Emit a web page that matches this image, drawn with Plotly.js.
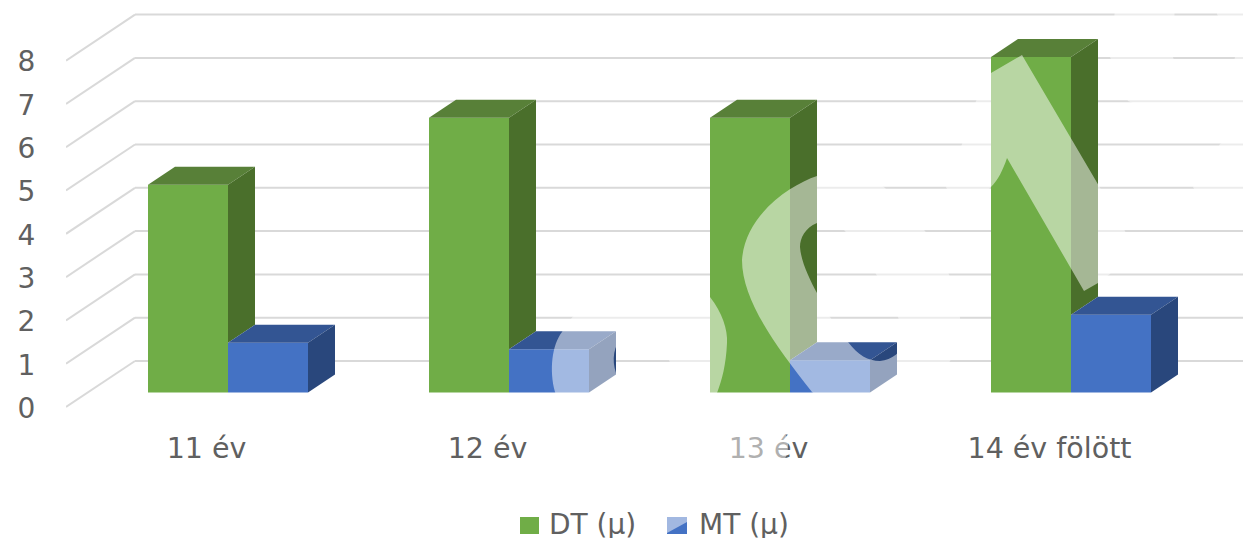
<!DOCTYPE html>
<html>
<head>
<meta charset="utf-8">
<script src="https://cdn.plot.ly/plotly-3.0.1.min.js"></script>
<style>html,body{margin:0;padding:0;background:#fff}#chart{width:1243px;height:539px}</style>
</head>
<body>
<div id="chart"></div>
<script>
// Chart values
const categories = ['11 év', '12 év', '13 év', '14 év fölött'];
const dtValues = [4.8, 6.35, 6.35, 7.75];
const mtValues = [1.15, 1.0, 0.75, 1.8];
const valueTicks = [0, 1, 2, 3, 4, 5, 6, 7, 8];
const dtName = 'DT (μ)';
const mtName = 'MT (μ)';

// Page geometry: the value axis sits slightly below the front wall edge
const W = 1243, H = 539, ML = 66, PLOT_H = 408;
const PX_PER_CAT = 281, PX_PER_VAL = 43.3;
const xMin = -0.5, xMax = xMin + (W - ML) / PX_PER_CAT, yMax = PLOT_H / PX_PER_VAL;
const wallLift = 1 / PX_PER_VAL;

// Oblique projection offsets, expressed in axis units
const wallDX = 69 / PX_PER_CAT, wallDY = 46 / PX_PER_VAL;       // front edge to back wall
const floorDX = 21.5 / PX_PER_CAT, floorDY = wallLift + 14.4 / PX_PER_VAL; // front edge to bar front
const barDX = 27 / PX_PER_CAT, barDY = 18 / PX_PER_VAL;         // bar depth
const barW = 80 / PX_PER_CAT;

const FONT = '"DejaVu Sans", sans-serif';
const colors = {
  dtFront: '#70AD47', dtTop: '#588038', dtSide: '#4A6F2B',
  mtFront: '#4472C4', mtTop: '#335593', mtSide: '#29477C',
  grid: '#D9D9D9', text: '#606060'
};

// Faces of the boxes, as multi-part filled outlines
function topFaces(values, xOffset) {
  const xs = [], ys = [];
  values.forEach((v, i) => {
    const l = i + floorDX + xOffset, r = l + barW, t = v + floorDY;
    xs.push(l, r, r + barDX, l + barDX, l, null);
    ys.push(t, t, t + barDY, t + barDY, t, null);
  });
  return {xs, ys};
}
function sideFaces(values, bases, xOffset) {
  const xs = [], ys = [];
  values.forEach((v, i) => {
    const r = i + floorDX + xOffset + barW, t = v + floorDY, b = bases[i] + floorDY;
    xs.push(r, r, r + barDX, r + barDX, r, null);
    ys.push(b, t, t + barDY, b + barDY, b, null);
  });
  return {xs, ys};
}
function faceTrace(face, color) {
  return {x: face.xs, y: face.ys, type: 'scatter', mode: 'lines', fill: 'toself',
          fillcolor: color, line: {width: 0, color: color}, hoverinfo: 'skip', showlegend: false};
}
function frontTrace(values, name, color, offset) {
  return {type: 'bar', name: name, x: categories.map((_, i) => i + floorDX), y: values,
          base: values.map(() => floorDY), width: barW, offset: offset,
          marker: {color: color, line: {width: 0}}, showlegend: false};
}

const traces = [
  frontTrace(dtValues, dtName, colors.dtFront, -barW),
  frontTrace(mtValues, mtName, colors.mtFront, 0),
  faceTrace(topFaces(dtValues, -barW), colors.dtTop),
  faceTrace(sideFaces(dtValues, mtValues, -barW), colors.dtSide),
  faceTrace(topFaces(mtValues, 0), colors.mtTop),
  faceTrace(sideFaces(mtValues, mtValues.map(() => 0), 0), colors.mtSide)
];

// Wall and side gridlines
const gridShapes = [];
valueTicks.forEach(v => {
  const line = {color: colors.grid, width: 2};
  const y = v + wallLift;
  gridShapes.push({type: 'line', layer: 'below', xref: 'x', yref: 'y',
    x0: xMin, y0: y, x1: xMin + wallDX, y1: y + wallDY, line});
  gridShapes.push({type: 'line', layer: 'below', xref: 'x', yref: 'y',
    x0: xMin + wallDX, y0: y + wallDY, x1: xMax, y1: y + wallDY, line});
});

// Page-pixel outlines converted to paper fractions
const fx = px => (px - ML) / (W - ML);
const fy = py => (PLOT_H - py) / PLOT_H;
function toPaper(path) {
  return path.replace(/(-?[\d.]+),(-?[\d.]+)/g, (m, a, b) => fx(+a) + ',' + fy(+b));
}

// Translucent white overprint
const overprint = [
  // ring across the third group
  'M742,260 C745,215 790,185 817,176 C845,165 870,172 885,188 L925,231 C945,260 958,290 960,317 C961,340 957,352 950,361 C935,395 900,412 860,412 C840,412 825,405 812,392 C775,345 742,300 742,260 Z ' +
  'M817,223 C805,228 800,238 800,247 C801,262 810,280 817,293 L830,317 L848,342 C858,355 868,361 880,361 C892,360 902,352 905,340 L898,317 L876,274 L845,231 C838,224 825,220 817,223 Z',
  // ring between the second and third groups
  'M555,392 C549,370 552,345 562,332 C575,310 600,285 640,280 C680,275 700,285 710,297 C722,312 728,330 727,343 C726,365 722,380 717,393 L710,402 L558,402 Z ' +
  'M620,340 C612,350 612,365 618,378 C625,392 655,395 672,378 C675,365 662,345 650,335 C640,330 628,332 620,340 Z',
  // diagonal stroke over the tallest bar
  'M991,73 L1022,55 L1099,186 L1125,231 L1131,248 L1110,274 L1098,283 L1084,291 L1007,158 C1003,170 998,180 991,187 C980,200 965,207 955,207 L946,187 L962,144 L976,101 Z',
  // strokes in the upper right corner
  'M1116,0 L1175,0 L1173,57 L1180,80 L1230,80 L1235,57 L1217,14 L1215,0 L1243,0 L1243,125 L1160,115 L1128,101 L1110,57 Z',
  'M1220,144 L1235,132 L1243,140 L1243,210 L1205,210 L1193,187 Z',
  // patch over the third category label
  'M728,428 L782,428 C792,443 788,453 782,466 L728,466 Z'
];
const overprintShapes = overprint.map(p => ({
  type: 'path', layer: 'above', xref: 'paper', yref: 'paper', path: toPaper(p),
  fillcolor: 'rgba(255,255,255,0.5)', fillrule: 'evenodd', line: {width: 0}
}));

// Legend swatches
function swatch(x0, y0, x1, y1, color) {
  return {type: 'rect', layer: 'above', xref: 'paper', yref: 'paper',
    x0: fx(x0), x1: fx(x1), y0: fy(y0), y1: fy(y1), fillcolor: color, line: {width: 0}};
}
const legendShapes = [
  swatch(520, 517, 539, 534, colors.dtFront),
  swatch(667, 517, 687, 534, colors.mtFront),
  {type: 'path', layer: 'above', xref: 'paper', yref: 'paper',
   path: toPaper('M667,517 L687,517 L687,522 L667,533 Z'),
   fillcolor: '#A2B8E1', line: {width: 0}}
];
function legendLabel(text, px) {
  return {text: text, xref: 'paper', yref: 'paper', x: fx(px), y: fy(539), xanchor: 'left', yanchor: 'bottom',
    height: 28, borderpad: 0, showarrow: false, font: {family: FONT, size: 28, color: colors.text}};
}

const layout = {
  width: W, height: H,
  margin: {l: ML, r: 0, t: 0, b: H - PLOT_H, pad: 0},
  paper_bgcolor: '#fff', plot_bgcolor: '#fff',
  barmode: 'overlay', showlegend: false,
  font: {family: FONT, size: 25, color: colors.text},
  xaxis: {range: [xMin, xMax], tickvals: categories.map((_, i) => i), ticktext: categories,
          showgrid: false, zeroline: false, showline: false, ticks: 'outside', ticklen: 15,
          tickcolor: 'rgba(0,0,0,0)', tickfont: {size: 28.5, color: colors.text}, automargin: false},
  yaxis: {range: [0, yMax], tickvals: valueTicks, ticktext: valueTicks.map(String),
          showgrid: false, zeroline: false, showline: false, ticks: 'outside', ticklen: 24,
          tickcolor: 'rgba(0,0,0,0)', tickfont: {size: 28, color: colors.text}, automargin: false},
  shapes: gridShapes.concat(overprintShapes, legendShapes),
  annotations: [legendLabel(dtName, 548), legendLabel(mtName, 698)]
};

Plotly.newPlot('chart', traces, layout, {displayModeBar: false, staticPlot: true});
</script>
</body>
</html>
